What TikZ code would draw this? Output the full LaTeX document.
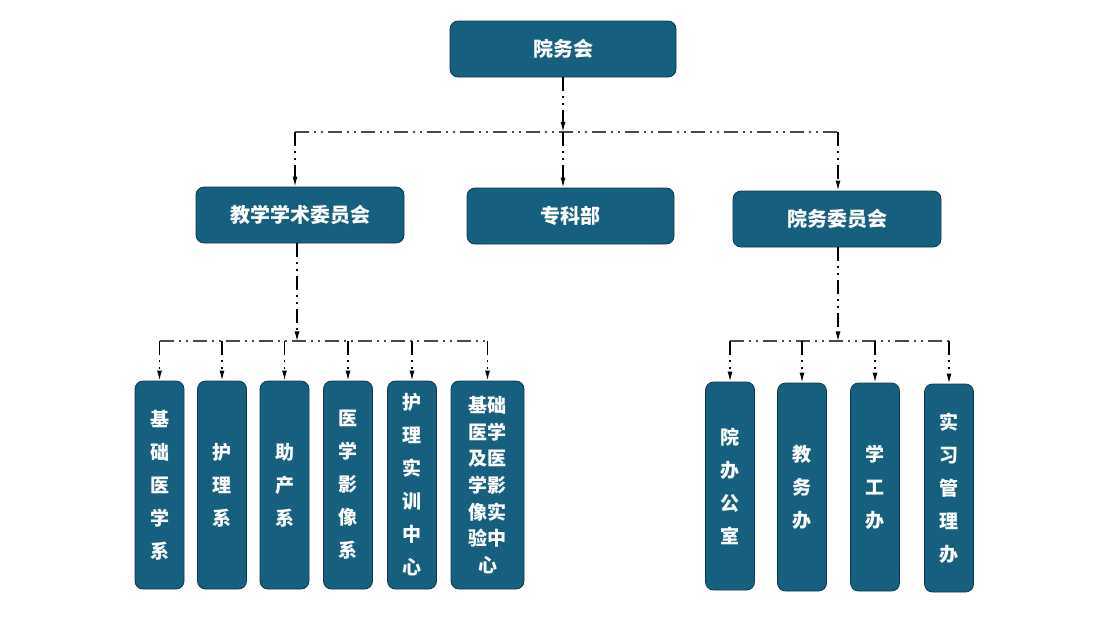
\documentclass[tikz,border=0pt]{standalone}
\usepackage{fontspec}
\newfontfamily\cjk{Noto Sans CJK SC}
\usetikzlibrary{arrows.meta,positioning}
\definecolor{BoxBlue}{HTML}{175F7F}
\definecolor{BoxEdge}{HTML}{0E3A4F}
\definecolor{BusGray}{HTML}{4A4A4A}

\begin{document}
\begin{tikzpicture}[x=1pt, y=-1pt,
  box/.style={draw=BoxEdge, fill=BoxBlue, rounded corners=8pt, line width=0.8pt,
    text=white, inner sep=0pt, font=\cjk\bfseries\fontsize{20}{24}\selectfont},
  topbox/.style={box, minimum width=208pt, minimum height=56pt},
  tallbox/.style={box, minimum width=49pt, minimum height=208pt, align=center,
    font=\cjk\bfseries\fontsize{19}{33}\selectfont},
  dashdots/.style={dash pattern=on 14pt off 5pt on 2pt off 5pt on 2pt off 5pt},
  link/.style={dashdots, black, line width=1.3pt, -{Latex[length=10pt,width=5pt]}},
  bus/.style={dashdots, BusGray, line width=2pt}]
\useasboundingbox (0,0) rectangle (1099,624);

% Top level
\node[topbox, minimum width=226pt] (yuanwu) at (563,49) {院务会};

% Second level
\node[topbox] (jiaoxue) at (300,215) {教学学术委员会};
\node[topbox, minimum width=207pt] (zhuanke) at (570.5,216) {专科部};
\node[topbox] (weiyuan) at (837,219) {院务委员会};

% Departments (left group)
\foreach \n/\x/\t in {jcyx/159.5/{基\\础\\医\\学\\系}, hl/222/{护\\理\\系},
    zc/284.5/{助\\产\\系}, yxyx/348/{医\\学\\影\\像\\系}, hlsx/412/{护\\理\\实\\训\\中\\心}} {
  \node[tallbox] (\n) at (\x,485) {\t};
}
\node[tallbox, minimum width=73pt, font=\cjk\bfseries\fontsize{19}{26.7}\selectfont]
  (syzx) at (487.5,485) {基础\\医学\\及医\\学影\\像实\\验中\\心};

% Offices (right group)
\foreach \n/\x/\y/\t in {ybgs/730/486/{院\\办\\公\\室}, jwb/802/487/{教\\务\\办},
    xgb/875/487/{学\\工\\办}, sxgl/949/488/{实\\习\\管\\理\\办}} {
  \node[tallbox] (\n) at (\x,\y) {\t};
}

% Top bus
\coordinate (topbus) at (563,132);
\coordinate (topL) at (295,132);
\coordinate (topR) at (838,132);
\draw[bus] (topL) -- (topR);
\draw[link] (yuanwu.south) -- (topbus);
\draw[link] (topL) -- (topL |- jiaoxue.north);
\draw[link] (topbus) -- (topbus |- zhuanke.north);
\draw[link] (topR) -- (topR |- weiyuan.north);

% Left bus
\path (jiaoxue.south) ++(-3,98) coordinate (midL);
\draw[bus] (jcyx.north |- midL) -- (syzx.north |- midL);
\draw[link] (jiaoxue.south -| midL) -- (midL);
\foreach \n in {jcyx,hl,zc,yxyx,hlsx,syzx}
  \draw[link] (\n.north |- midL) -- (\n.north);

% Right bus
\path (weiyuan.south) ++(1,94) coordinate (midR);
\draw[bus] (ybgs.north |- midR) -- (sxgl.north |- midR);
\draw[link] (weiyuan.south -| midR) -- (midR);
\foreach \n in {ybgs,jwb,xgb,sxgl}
  \draw[link] (\n.north |- midR) -- (\n.north);
\end{tikzpicture}
\end{document}
